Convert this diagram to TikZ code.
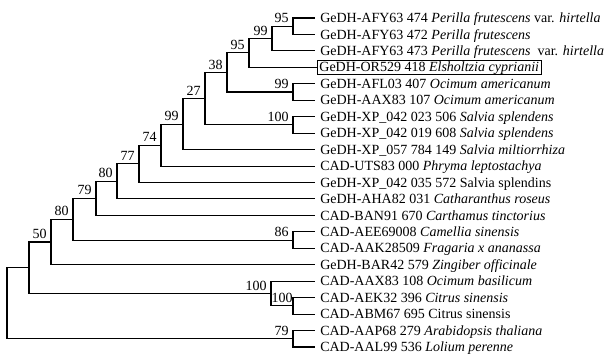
\documentclass[tikz,border=0pt]{standalone}
\usepackage{fontspec}
\setmainfont{Liberation Serif}

\begin{document}
\begin{tikzpicture}[
    x=0.75pt, y=-0.75pt,
    font=\fontsize{10.5}{12}\selectfont,
    branch/.style={line width=0.8pt},
    taxon/.style={anchor=west, inner xsep=3.75pt, inner ysep=0pt, text height=7pt, text depth=0pt},
    marked/.style={taxon, draw, line width=0.6pt, inner xsep=1.5pt, inner ysep=0.4pt, text height=8.5pt, text depth=1.8pt},
    boot/.style={anchor=south east, inner sep=0pt, xshift=-3pt, yshift=2.3pt}
  ]
    \useasboundingbox (0,0) rectangle (607,359);

    % leaves
    \node[taxon] (l1) at (315,18) {GeDH-AFY63 474 \textit{Perilla frutescens} var. \textit{hirtella}};
    \node[taxon] (l2) at (315,34.45) {GeDH-AFY63 472 \textit{Perilla frutescens}};
    \node[taxon] (l3) at (315,50.9) {GeDH-AFY63 473 \textit{Perilla frutescens}\ \ var. \textit{hirtella}};
    \node[marked] (l4) at (317,67.35) {GeDH-OR529 418 \textit{Elsholtzia cyprianii}};
    \node[taxon] (l5) at (315,83.8) {GeDH-AFL03 407 \textit{Ocimum americanum}};
    \node[taxon] (l6) at (315,100.25) {GeDH-AAX83 107 \textit{Ocimum americanum}};
    \node[taxon] (l7) at (315,116.7) {GeDH-XP\_042 023 506 \textit{Salvia splendens}};
    \node[taxon] (l8) at (315,133.15) {GeDH-XP\_042 019 608 \textit{Salvia splendens}};
    \node[taxon] (l9) at (315,149.6) {GeDH-XP\_057 784 149 \textit{Salvia miltiorrhiza}};
    \node[taxon] (l10) at (315,166.05) {CAD-UTS83 000 \textit{Phryma leptostachya}};
    \node[taxon] (l11) at (315,182.5) {GeDH-XP\_042 035 572 Salvia splendins};
    \node[taxon] (l12) at (315,198.95) {GeDH-AHA82 031 \textit{Catharanthus roseus}};
    \node[taxon] (l13) at (315,215.4) {CAD-BAN91 670 \textit{Carthamus tinctorius}};
    \node[taxon] (l14) at (315,231.85) {CAD-AEE69008 \textit{Camellia sinensis}};
    \node[taxon] (l15) at (315,248.3) {CAD-AAK28509 \textit{Fragaria x ananassa}};
    \node[taxon] (l16) at (315,264.75) {GeDH-BAR42 579 \textit{Zingiber officinale}};
    \node[taxon] (l17) at (315,281.2) {CAD-AAX83 108 \textit{Ocimum basilicum}};
    \node[taxon] (l18) at (315,297.65) {CAD-AEK32 396 \textit{Citrus sinensis}};
    \node[taxon] (l19) at (315,314.1) {CAD-ABM67 695 Citrus sinensis};
    \node[taxon] (l20) at (315,330.55) {CAD-AAP68 279 \textit{Arabidopsis thaliana}};
    \node[taxon] (l21) at (315,347) {CAD-AAL99 536 \textit{Lolium perenne}};

    % internal nodes
    \coordinate (n95a) at (293,26.23);
    \coordinate (n99a) at (272,38.56);
    \coordinate (n95b) at (249,52.96);
    \coordinate (n99b) at (293,92.03);
    \coordinate (n38) at (227,72.49);
    \coordinate (n100a) at (293,124.93);
    \coordinate (n27) at (205,98.71);
    \coordinate (n99c) at (183,124.15);
    \coordinate (n74) at (161,145.1);
    \coordinate (n77) at (139,163.8);
    \coordinate (n80a) at (117,181.38);
    \coordinate (n79a) at (96,198.39);
    \coordinate (n86) at (293,240.08);
    \coordinate (n80b) at (73,219.23);
    \coordinate (n50) at (51,241.99);
    \coordinate (n100c) at (293,305.88);
    \coordinate (n100b) at (271,293.54);
    \coordinate (nin) at (29,267.77);
    \coordinate (n79b) at (293,338.78);
    \coordinate (root) at (7,303.27);

    % branches
    \draw[branch] (n95a) |- (l1);
    \draw[branch] (n95a) |- (l2);
    \draw[branch] (n99a) |- (n95a);
    \draw[branch] (n99a) |- (l3);
    \draw[branch] (n95b) |- (n99a);
    \draw[branch] (n95b) |- (l4);
    \draw[branch] (n99b) |- (l5);
    \draw[branch] (n99b) |- (l6);
    \draw[branch] (n38) |- (n95b);
    \draw[branch] (n38) |- (n99b);
    \draw[branch] (n100a) |- (l7);
    \draw[branch] (n100a) |- (l8);
    \draw[branch] (n27) |- (n38);
    \draw[branch] (n27) |- (n100a);
    \draw[branch] (n99c) |- (n27);
    \draw[branch] (n99c) |- (l9);
    \draw[branch] (n74) |- (n99c);
    \draw[branch] (n74) |- (l10);
    \draw[branch] (n77) |- (n74);
    \draw[branch] (n77) |- (l11);
    \draw[branch] (n80a) |- (n77);
    \draw[branch] (n80a) |- (l12);
    \draw[branch] (n79a) |- (n80a);
    \draw[branch] (n79a) |- (l13);
    \draw[branch] (n86) |- (l14);
    \draw[branch] (n86) |- (l15);
    \draw[branch] (n80b) |- (n79a);
    \draw[branch] (n80b) |- (n86);
    \draw[branch] (n50) |- (n80b);
    \draw[branch] (n50) |- (l16);
    \draw[branch] (n100c) |- (l18);
    \draw[branch] (n100c) |- (l19);
    \draw[branch] (n100b) |- (l17);
    \draw[branch] (n100b) |- (n100c);
    \draw[branch] (nin) |- (n50);
    \draw[branch] (nin) |- (n100b);
    \draw[branch] (n79b) |- (l20);
    \draw[branch] (n79b) |- (l21);
    \draw[branch] (root) |- (nin);
    \draw[branch] (root) |- (n79b);

    % bootstrap values
    \node[boot] (b95a) at (n95a) {95};
    \node[boot] (b99a) at (n99a) {99};
    \node[boot] (b95b) at (n95b) {95};
    \node[boot] (b99b) at (n99b) {99};
    \node[boot] (b38) at (n38) {38};
    \node[boot] (b100a) at (n100a) {100};
    \node[boot] (b27) at (n27) {27};
    \node[boot] (b99c) at (n99c) {99};
    \node[boot] (b74) at (n74) {74};
    \node[boot] (b77) at (n77) {77};
    \node[boot] (b80a) at (n80a) {80};
    \node[boot] (b79a) at (n79a) {79};
    \node[boot] (b86) at (n86) {86};
    \node[boot] (b80b) at (n80b) {80};
    \node[boot] (b50) at (n50) {50};
    \node[boot, xshift=3pt] (b100c) at (n100c) {100};
    \node[boot] (b100b) at (n100b) {100};
    \node[boot] (b79b) at (n79b) {79};
  \end{tikzpicture}
\end{document}
